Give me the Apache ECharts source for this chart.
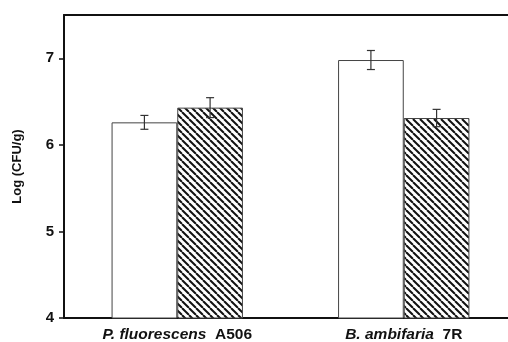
<!DOCTYPE html>
<html>
<head>
    <meta charset="utf-8">
    <title>Log CFU</title>
    <style>
        html, body { margin: 0; height: 100%; background: #fff; }
        #main { width: 508px; height: 342px; }
    </style>
</head>
<body>
    <div id="main"></div>
    <script src="https://cdn.jsdelivr.net/npm/echarts@6/dist/echarts.min.js"></script>
    <script>
// data
const species = ['P. fluorescens', 'B. ambifaria'];
const strains = ['A506', '7R'];
const openVals = [6.26, 6.98];
const openErr = [0.08, 0.11];
const hatchVals = [6.43, 6.31];
const hatchErr = [0.115, 0.10];
const yTicks = [4, 5, 6, 7];

const categories = species.map((s, i) => s + '|' + strains[i]);

// diagonal hatch pattern
function makeHatch() {
    const n = 7;
    const c = document.createElement('canvas');
    c.width = n; c.height = n;
    const ctx = c.getContext('2d');
    ctx.fillStyle = '#fff';
    ctx.fillRect(0, 0, n, n);
    ctx.strokeStyle = '#111';
    ctx.lineWidth = 2;
    for (let k = -1; k <= 1; k++) {
        ctx.beginPath();
        ctx.moveTo(k * n, 0);
        ctx.lineTo(k * n + n, n);
        ctx.stroke();
    }
    return c;
}

const GAP = 0.42;

function errorSeries(vals, errs, side) {
    return {
        type: 'custom',
        z: 5,
        data: vals.map((v, i) => [i, v - errs[i], v + errs[i]]),
        renderItem: (params, api) => {
            const band = api.size([1, 0])[0];
            const bw = band * (1 - GAP) / 2;
            const lo = api.coord([api.value(0), api.value(1)]);
            const hi = api.coord([api.value(0), api.value(2)]);
            const x = lo[0] + side * bw / 2;
            const cap = 4;
            const st = { stroke: '#333', lineWidth: 1.2 };
            return {
                type: 'group',
                children: [
                    { type: 'line', shape: { x1: x, y1: lo[1], x2: x, y2: hi[1] }, style: st },
                    { type: 'line', shape: { x1: x - cap, y1: lo[1], x2: x + cap, y2: lo[1] }, style: st },
                    { type: 'line', shape: { x1: x - cap, y1: hi[1], x2: x + cap, y2: hi[1] }, style: st }
                ]
            };
        }
    };
}

const chart = echarts.init(document.getElementById('main'));
chart.setOption({
    animation: false,
    backgroundColor: '#fff',
    grid: { left: 64, width: 453, top: 15, bottom: 24, outerBoundsMode: 'none', containLabel: false },
    xAxis: [
        {
            type: 'category',
            data: categories,
            axisLine: { lineStyle: { color: '#111', width: 2 } },
            axisTick: { show: false },
            axisLabel: {
                margin: 9,
                formatter: v => {
                    const p = v.split('|');
                    return '{sp|' + p[0] + '}{st|  ' + p[1] + '}';
                },
                rich: {
                    sp: { fontFamily: 'Liberation Sans', fontWeight: 'bold', fontStyle: 'italic', fontSize: 15.5, color: '#111' },
                    st: { fontFamily: 'Liberation Sans', fontWeight: 'bold', fontSize: 15.5, color: '#111' }
                }
            }
        },
        {
            type: 'category',
            position: 'top',
            data: categories,
            axisLine: { lineStyle: { color: '#111', width: 2 } },
            axisTick: { show: false },
            axisLabel: { show: false }
        }
    ],
    yAxis: {
        type: 'value',
        min: 4,
        max: 7.5,
        interval: 1,
        name: 'Log (CFU/g)',
        nameLocation: 'middle',
        nameGap: 40,
        nameRotate: 90,
        nameTextStyle: { fontFamily: 'Liberation Sans', fontWeight: 'bold', fontSize: 13, color: '#111' },
        axisLine: { show: true, lineStyle: { color: '#111', width: 2 } },
        axisTick: { show: true, inside: false, length: 5, lineStyle: { color: '#111', width: 1.5 }, customValues: yTicks },
        splitLine: { show: false },
        axisLabel: {
            margin: 10,
            customValues: yTicks,
            fontFamily: 'Liberation Sans',
            fontWeight: 'bold',
            fontSize: 15,
            color: '#111'
        }
    },
    series: [
        {
            type: 'bar',
            data: openVals,
            barGap: '0%',
            barCategoryGap: (GAP * 100) + '%',
            itemStyle: { color: '#fff', borderColor: '#444', borderWidth: 1 }
        },
        {
            type: 'bar',
            data: hatchVals,
            itemStyle: { color: { image: makeHatch(), repeat: 'repeat' }, borderColor: '#444', borderWidth: 1 }
        },
        errorSeries(openVals, openErr, -1),
        errorSeries(hatchVals, hatchErr, 1)
    ]
});
    </script>
</body>
</html>
